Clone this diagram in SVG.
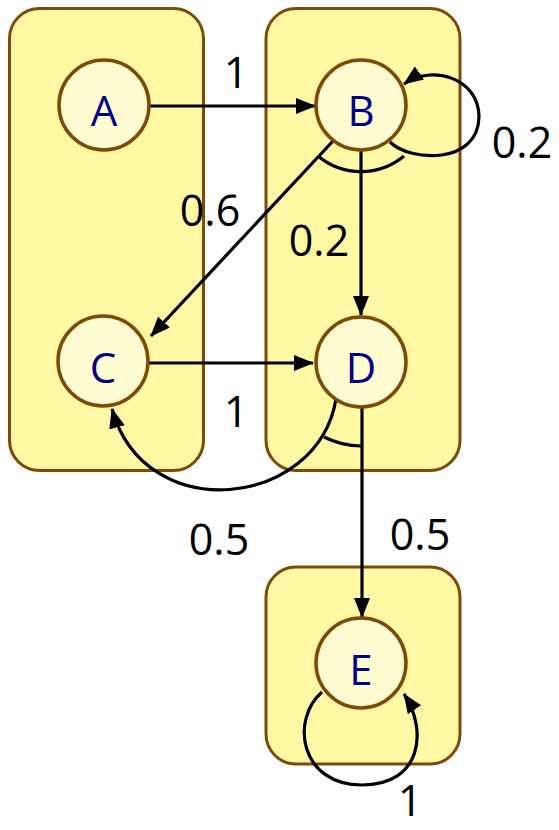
<svg xmlns="http://www.w3.org/2000/svg" width="559" height="830" viewBox="0 0 559 830">
  <style>
    .box { fill: #fff9a6; stroke: #7f4a08; stroke-width: 3; }
    .node circle { fill: #fffcd2; stroke: #7f4a08; stroke-width: 3.5; }
    .node text { font-family: "Open Sans", "DejaVu Sans", sans-serif; font-size: 42px; fill: #000088; text-anchor: middle; }
    .edge { fill: none; stroke: #000; stroke-width: 3.2; }
    .lbl { font-family: "Open Sans", "DejaVu Sans", sans-serif; font-size: 43px; fill: #000; text-anchor: middle; }
  </style>
  <defs>
    <marker id="arrow" markerUnits="userSpaceOnUse" markerWidth="20" markerHeight="16" refX="19" refY="8" orient="auto">
      <path d="M0,0 L20,8 L0,16 z" fill="#000"/>
    </marker>
  </defs>

  <!-- group boxes -->
  <g id="groups">
    <rect class="box" x="9.5" y="8.5" width="194" height="462" rx="30"/>
    <rect class="box" x="266" y="8.5" width="194" height="462" rx="30"/>
    <rect class="box" x="266" y="567" width="194" height="197" rx="30"/>
  </g>

  <!-- connectors -->
  <g id="connectors">
    <path class="edge" d="M150,106 L315,106" marker-end="url(#arrow)"/>
    <path class="edge" d="M390,142 C410,162 478,165 479,117 C479,78 432,64 404,84" marker-end="url(#arrow)"/>
    <path class="edge" d="M404,156 A67,67 0 0 1 318,156"/>
    <path class="edge" d="M333,141 L151,336" marker-end="url(#arrow)"/>
    <path class="edge" d="M361,150 L361,315" marker-end="url(#arrow)"/>
    <path class="edge" d="M149,363 L313,363" marker-end="url(#arrow)"/>
    <path class="edge" d="M336,399 C318,508 145,528 112,409" marker-end="url(#arrow)"/>
    <path class="edge" d="M361,446 A84,84 0 0 1 324,437"/>
    <path class="edge" d="M362,408 L362,617" marker-end="url(#arrow)"/>
    <path class="edge" d="M322,692 C290,720 300,785 362,785 C422,785 428,730 404,694" marker-end="url(#arrow)"/>

    <text class="lbl" x="236" y="88">1</text>
    <text class="lbl" x="522" y="158">0.2</text>
    <text class="lbl" x="210" y="226">0.6</text>
    <text class="lbl" x="319" y="256">0.2</text>
    <text class="lbl" x="236" y="427">1</text>
    <text class="lbl" x="219" y="555">0.5</text>
    <text class="lbl" x="420" y="550">0.5</text>
    <text class="lbl" x="410" y="816">1</text>
  </g>

  <!-- states -->
  <g id="A" class="node"><circle cx="104" cy="105" r="45"/><text x="104" y="126">A</text></g>
  <g id="B" class="node"><circle cx="361" cy="105" r="45"/><text x="361" y="126">B</text></g>
  <g id="C" class="node"><circle cx="103" cy="361" r="45"/><text x="103" y="383">C</text></g>
  <g id="D" class="node"><circle cx="361" cy="362" r="45"/><text x="361" y="383">D</text></g>
  <g id="E" class="node"><circle cx="361" cy="663" r="45"/><text x="361" y="685">E</text></g>
</svg>
